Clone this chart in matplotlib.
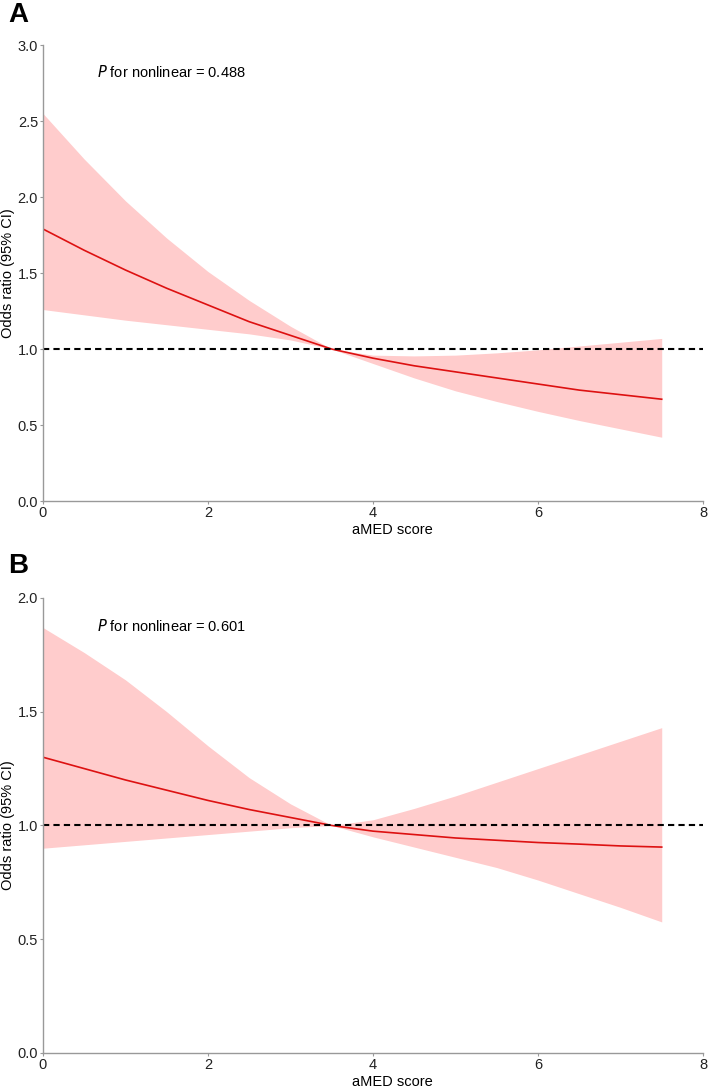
import numpy as np
import matplotlib
matplotlib.use("Agg")
import matplotlib.pyplot as plt

plt.rcParams['font.family'] = ['Liberation Sans', 'DejaVu Sans']

# aMED score grid
x = [0, 0.5, 1, 1.5, 2, 2.5, 3, 3.5, 4, 4.5, 5, 5.5, 6, 6.5, 7, 7.5]

# panel A
or_a = [1.79, 1.65, 1.52, 1.40, 1.29, 1.18, 1.09, 1.00, 0.94, 0.89, 0.85, 0.81, 0.77, 0.73, 0.70, 0.67]
hi_a = [2.55, 2.25, 1.975, 1.73, 1.51, 1.32, 1.15, 1.00, 0.96, 0.955, 0.96, 0.975, 0.995, 1.02, 1.045, 1.07]
lo_a = [1.26, 1.225, 1.19, 1.16, 1.13, 1.10, 1.06, 1.00, 0.905, 0.81, 0.725, 0.655, 0.59, 0.53, 0.475, 0.42]

# panel B
or_b = [1.30, 1.25, 1.20, 1.155, 1.11, 1.07, 1.035, 1.00, 0.975, 0.96, 0.945, 0.935, 0.925, 0.918, 0.91, 0.905]
hi_b = [1.87, 1.76, 1.64, 1.50, 1.35, 1.21, 1.095, 1.00, 1.025, 1.075, 1.13, 1.19, 1.25, 1.31, 1.37, 1.43]
lo_b = [0.90, 0.915, 0.93, 0.945, 0.96, 0.975, 0.99, 1.00, 0.95, 0.905, 0.86, 0.815, 0.76, 0.70, 0.64, 0.576]

p_a = "0.488"
p_b = "0.601"

fig = plt.figure(figsize=(7.09, 10.89), dpi=100)

panels = [("A", or_a, lo_a, hi_a, 3.0, p_a, 0.5399, 0.4187, 2.82, 1.066),
          ("B", or_b, lo_b, hi_b, 2.0, p_b, 0.0331, 0.4178, 1.877, 1.07)]

for lab, est, lo, hi, ymax, pval, bottom, height, ptext, laby in panels:
    ax = fig.add_axes([0.0606, bottom, 0.9309, height])
    ax.fill_between(x, lo, hi, color='#ffcccc', lw=0)
    ax.plot(x, est, color='#dd1111', lw=1.2)
    ax.axhline(1.0, color='black', lw=1.5, dashes=(3, 2))
    ax.set_xlim(0, 8)
    ax.set_ylim(0, ymax)
    ax.set_xticks([0, 2, 4, 6, 8])
    yt = np.arange(0, ymax + 0.01, 0.5)
    ax.set_yticks(yt)
    ax.set_yticklabels([f"{v:.1f}" for v in yt])
    for s in ['top', 'right']:
        ax.spines[s].set_visible(False)
    for s in ['left', 'bottom']:
        ax.spines[s].set_color('#999999')
        ax.spines[s].set_linewidth(1.0)
    ax.tick_params(colors='#999999', labelcolor='#222222', labelsize=10.5,
                   length=2.5, width=0.8, pad=1)
    ax.set_xlabel("aMED score", fontsize=10.5)
    ax.xaxis.set_label_coords(0.53, -0.048)
    ax.set_ylabel("Odds ratio (95% CI)", fontsize=10.5)
    ax.yaxis.set_label_coords(-0.043, 0.5)
    ax.text(0.65, ptext, "$\\it{P}$ for nonlinear = " + pval, fontsize=10.5,
            va='center', ha='left')
    ax.text(-0.053, laby, lab, transform=ax.transAxes,
            fontsize=20, fontweight='bold', va='center', ha='left')

fig.savefig("out.png", dpi=100)
